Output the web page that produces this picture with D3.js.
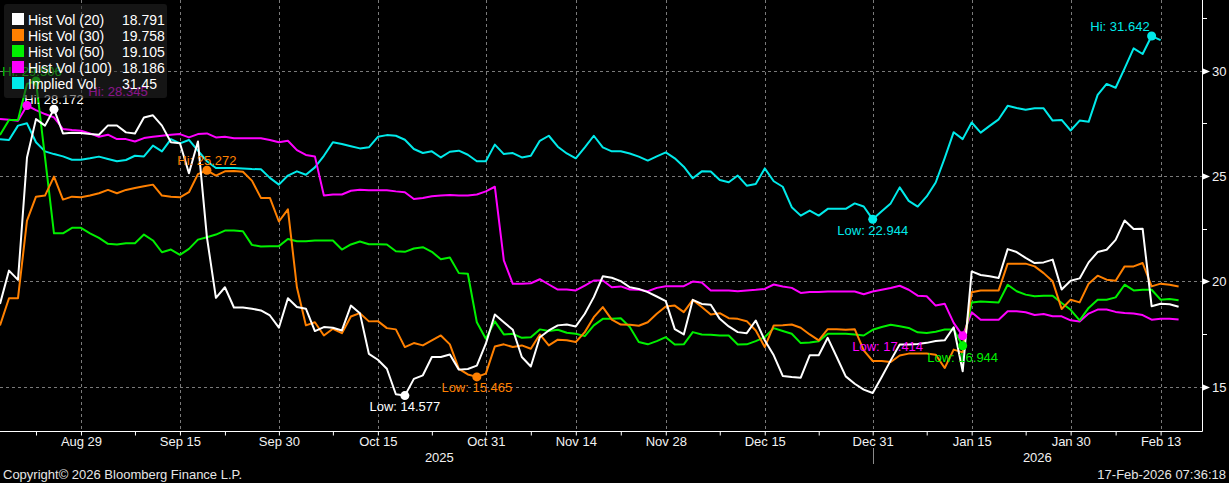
<!DOCTYPE html>
<html><head><meta charset="utf-8">
<script src="https://cdn.jsdelivr.net/npm/d3@7/dist/d3.min.js"></script>
<style>html,body{margin:0;padding:0;background:#000;overflow:hidden}svg{display:block}</style>
</head><body><svg id="c" width="1229" height="483"></svg>
<script>
// ---------------- DATA ----------------
const seriesNames = ["Hist Vol (20)", "Hist Vol (30)", "Hist Vol (50)", "Hist Vol (100)", "Implied Vol"];
const legendValues = ["18.791", "19.758", "19.105", "18.186", "31.45"];
const firstDate = "2025-08-18";   // first trading day shown (weekday calendar)
const lastDate = "2026-02-17";
const tickLabels = ["Aug 29", "Sep 15", "Sep 30", "Oct 15", "Oct 31", "Nov 14", "Nov 28", "Dec 15", "Dec 31", "Jan 15", "Jan 30", "Feb 13"];
const tickDates = ["2025-08-29", "2025-09-15", "2025-09-30", "2025-10-15", "2025-10-31", "2025-11-14", "2025-11-28", "2025-12-15", "2025-12-31", "2026-01-15", "2026-01-30", "2026-02-13"];
const minorTickDates = ["2025-08-22", "2025-09-08", "2025-09-22", "2025-10-08", "2025-10-23", "2025-11-07", "2025-11-21", "2025-12-08", "2025-12-23", "2026-01-08", "2026-01-23", "2026-02-06"];
const yearLabels = ["2025", "2026"];
const yTicks = [15, 20, 25, 30];
const yMinorTicks = [17.5, 22.5, 27.5, 32.5];

const histVol20 = [18.93,20.51,20.07,25.88,27.70,27.39,28.172,27.02,27.05,27.04,26.99,26.96,27.40,27.40,27.07,27.02,27.78,27.88,27.39,26.60,
26.55,25.13,26.64,22.09,19.22,19.72,18.76,18.76,18.70,18.62,18.38,17.80,19.20,18.78,18.70,17.64,17.83,17.80,17.67,18.85,
18.49,16.56,16.28,15.85,14.64,14.577,15.37,15.54,16.41,16.41,16.53,15.81,15.84,16.00,17.04,18.43,18.06,17.70,16.41,15.96,
17.35,17.67,17.91,17.95,17.86,18.46,19.25,20.24,20.17,20.01,19.72,19.64,19.49,19.28,19.06,17.73,17.48,19.12,18.93,18.89,
18.22,17.86,17.59,17.54,18.14,17.20,16.49,15.51,15.46,15.43,16.49,16.49,17.32,16.41,15.49,15.14,14.86,14.70,15.46,16.25,
17.00,17.00,17.03,17.08,17.17,17.20,17.82,15.73,20.47,20.30,20.24,20.16,21.53,21.39,21.11,20.87,20.90,21.03,19.61,20.03,
20.14,20.90,21.39,21.50,21.97,22.89,22.48,22.50,18.82,18.94,18.91,18.791];

const histVol30 = [17.91,19.20,19.20,22.88,24.02,24.07,24.97,23.88,24.02,23.99,24.07,24.18,24.34,24.18,24.34,24.43,24.51,24.59,24.07,24.02,
23.99,24.23,25.09,25.272,25.02,25.22,25.24,25.20,24.78,23.96,23.96,22.84,23.42,19.72,17.91,18.06,17.43,17.75,17.54,18.33,
18.49,18.10,18.11,17.78,17.72,16.88,17.07,16.96,17.20,17.43,17.01,15.85,15.58,15.465,15.62,16.91,17.01,16.88,16.96,16.80,
17.48,16.96,17.23,17.20,17.12,17.59,18.30,18.78,18.18,17.95,17.94,17.89,18.06,18.46,18.81,18.85,18.54,19.12,18.78,18.43,
18.49,18.25,18.22,18.11,17.67,16.88,17.91,17.92,17.95,17.80,17.48,17.20,17.73,17.73,17.70,17.73,16.72,16.22,16.22,16.17,
16.48,16.57,16.57,16.57,16.52,15.89,16.76,16.63,19.48,19.57,19.57,19.57,20.84,20.84,20.84,20.71,20.39,20.00,18.69,19.13,
19.00,19.89,20.27,20.08,20.03,20.71,20.71,20.87,19.76,19.89,19.84,19.758];

const histVol50 = [26.95,27.66,27.66,29.37,29.506,25.90,22.28,22.28,22.54,22.54,22.28,22.06,21.78,21.75,21.81,21.81,22.22,21.94,21.38,21.51,
21.26,21.54,21.98,22.09,22.22,22.41,22.41,22.38,21.73,21.65,21.67,21.67,22.01,21.90,21.90,21.94,21.94,21.94,21.51,21.75,
21.89,21.76,21.76,21.75,21.43,21.40,21.56,21.62,21.40,21.05,21.13,20.39,20.36,18.06,17.28,18.10,17.48,17.51,17.32,17.35,
17.72,17.64,17.70,17.56,17.51,17.40,17.91,18.22,18.22,18.25,17.83,17.12,17.01,17.16,17.35,17.00,17.01,17.59,17.48,17.46,
17.43,17.43,17.00,17.01,17.16,17.35,17.78,17.64,17.51,17.07,17.10,17.16,17.51,17.51,17.51,17.48,17.43,17.70,17.83,17.94,
17.87,17.79,17.58,17.55,17.61,17.71,17.71,16.944,19.00,19.04,19.02,19.00,19.84,19.53,19.37,19.29,19.32,19.32,18.97,18.65,
18.15,18.74,19.13,19.13,19.24,19.84,19.57,19.60,19.60,19.13,19.16,19.105];

const histVol100 = [27.70,27.67,27.62,28.345,28.13,27.94,27.78,27.23,27.18,27.15,27.02,26.86,26.96,26.75,26.75,26.64,26.80,26.86,26.91,26.96,
26.99,26.83,26.99,27.02,26.83,26.86,26.79,26.79,26.79,26.79,26.71,26.60,26.67,26.23,26.00,25.93,24.07,24.12,24.12,24.30,
24.35,24.32,24.32,24.32,24.27,24.23,23.91,23.96,24.04,24.07,24.10,24.07,24.07,24.12,24.27,24.49,21.00,19.88,19.88,19.91,
20.10,19.85,19.61,19.61,19.57,19.80,20.04,20.04,19.72,19.76,19.61,19.60,19.53,19.69,19.77,19.77,19.77,19.99,19.94,19.57,
19.57,19.57,19.53,19.57,19.60,19.64,19.85,19.76,19.69,19.45,19.49,19.49,19.52,19.52,19.52,19.52,19.39,19.52,19.60,19.68,
19.79,19.60,19.32,19.29,18.85,18.94,18.03,17.414,18.53,18.18,18.18,18.18,18.58,18.58,18.53,18.40,18.45,18.34,18.34,18.15,
18.09,18.47,18.66,18.66,18.55,18.50,18.47,18.40,18.18,18.23,18.23,18.186];

const impliedVol = [26.75,26.71,27.39,27.50,26.60,26.17,26.04,25.93,25.77,25.77,25.84,25.92,25.81,25.70,25.76,25.96,25.93,26.44,26.17,26.75,
26.55,26.71,26.20,25.70,25.38,25.38,25.38,25.36,25.33,25.32,24.91,24.59,25.02,25.22,25.06,25.41,25.96,26.60,26.52,26.41,
26.31,26.36,26.86,26.94,26.91,26.72,26.28,26.09,26.17,25.88,26.15,26.20,26.01,25.70,25.70,26.49,26.04,26.09,25.88,25.96,
26.67,26.91,26.39,26.07,25.84,26.36,26.91,26.36,26.17,26.17,26.07,25.92,25.73,25.93,26.12,25.84,25.44,24.89,25.22,25.21,
24.81,24.70,25.02,24.54,24.62,25.36,24.75,24.49,23.52,23.12,23.36,23.12,23.44,23.44,23.44,23.70,23.55,22.944,23.33,23.70,
24.46,23.82,23.55,24.03,24.69,25.85,27.08,26.75,27.54,27.06,27.38,27.69,28.33,28.23,28.14,28.21,28.21,27.63,27.66,27.16,
27.63,27.57,28.85,29.37,29.19,30.11,31.06,30.79,31.642,31.45];

const seriesValues = [histVol20, histVol30, histVol50, histVol100, impliedVol];

// ---------------- STYLE / LAYOUT ----------------
const colors = ["#ffffff", "#ff8000", "#00f000", "#ff00ff", "#00eaea"];
const FONT = "'Liberation Sans', Arial, sans-serif";
const plot = {left: 0, right: 1202, top: 0, bottom: 431};
// label placement tweaks for Hi / Low annotations [dx, dy(baseline), anchor]
const hiPlace  = [[0,-5,"middle"],[0,-5,"middle"],[-4,-5,"middle"],[91,-10,"middle"],[-2,-5,"end"]];
const lowPlace = [[0,15.5,"middle"],[0,15.5,"middle"],[0,16,"middle"],[-75,15.5,"middle"],[0,15.5,"middle"]];

const svg = d3.select("#c");
svg.append("rect").attr("width",1229).attr("height",483).attr("fill","#000");

const parse = d3.timeParse("%Y-%m-%d");
const tradingDays = d3.timeDay.range(parse(firstDate), d3.timeDay.offset(parse(lastDate),1))
  .filter(d => d.getDay() !== 0 && d.getDay() !== 6);
const fmtKey = d3.timeFormat("%Y-%m-%d");
const dayIndex = new Map(tradingDays.map((d,i)=>[fmtKey(d), i]));

const x = d3.scaleLinear().domain([0, 133.6]).range([plot.left, plot.right]);
const y = d3.scaleLinear().domain([12.897, 33.353]).range([plot.bottom, plot.top]);

// grid
const grid = svg.append("g").attr("stroke","#7a7a7a").attr("stroke-width",1).attr("stroke-dasharray","3,3");
yTicks.forEach(v => grid.append("line").attr("x1",plot.left).attr("x2",plot.right)
  .attr("y1",Math.round(y(v))+0.5).attr("y2",Math.round(y(v))+0.5));
tickDates.forEach(d => { const xx = Math.round(x(dayIndex.get(d)))+0.5;
  grid.append("line").attr("x1",xx).attr("x2",xx).attr("y1",plot.top).attr("y2",plot.bottom); });

// clip
svg.append("clipPath").attr("id","clip").append("rect")
  .attr("x",plot.left).attr("y",plot.top).attr("width",plot.right-plot.left).attr("height",plot.bottom-plot.top);

const line = d3.line().x((d,i)=>x(i)).y(d=>y(d));
const lines = svg.append("g").attr("clip-path","url(#clip)");
for (let s = seriesValues.length-1; s >= 0; s--) {
  lines.append("path").datum(seriesValues[s]).attr("d", line)
    .attr("fill","none").attr("stroke",colors[s]).attr("stroke-width",2).attr("stroke-linejoin","round");
}

// hi / low annotations
const ann = svg.append("g").attr("font-family",FONT).attr("font-size",13);
seriesValues.forEach((vals, s) => {
  const iMax = d3.maxIndex(vals), iMin = d3.minIndex(vals);
  [[iMax,"Hi: ",hiPlace[s]],[iMin,"Low: ",lowPlace[s]]].forEach(([i,pre,pl]) => {
    const cx = x(i), cy = y(vals[i]);
    ann.append("circle").attr("cx",cx).attr("cy",cy).attr("r",4.5).attr("fill",colors[s]);
    ann.append("text").attr("x",cx+pl[0]).attr("y",cy+pl[1]).attr("text-anchor",pl[2])
      .attr("fill",colors[s]).text(pre + d3.format(".3f")(vals[i]));
  });
});

// legend
const lg = svg.append("g").attr("font-family",FONT).attr("font-size",14);
lg.append("rect").attr("x",4).attr("y",4).attr("width",163).attr("height",94).attr("rx",3)
  .attr("fill","#262626").attr("fill-opacity",0.55);
seriesNames.forEach((n,i) => {
  const by = 25 + i*16;
  lg.append("rect").attr("x",12).attr("y",by-12).attr("width",12).attr("height",12).attr("fill",colors[i]);
  lg.append("text").attr("x",28).attr("y",by).attr("fill","#fff").text(n);
  lg.append("text").attr("x",122).attr("y",by).attr("fill","#fff").text(legendValues[i]);
});

// axes lines
const ax = svg.append("g");
ax.append("line").attr("x1",plot.left).attr("x2",plot.right+0.5).attr("y1",plot.bottom+0.5).attr("y2",plot.bottom+0.5)
  .attr("stroke","#fff").attr("stroke-width",1);
ax.append("line").attr("x1",plot.right+0.5).attr("x2",plot.right+0.5).attr("y1",plot.top).attr("y2",plot.bottom+0.5)
  .attr("stroke","#fff").attr("stroke-width",1);

// x axis ticks via d3 axis
const xAxis = d3.axisBottom(x).tickValues(tickDates.map(d=>dayIndex.get(d)))
  .tickFormat((d,i)=>tickLabels[i]).tickSize(4).tickPadding(2);
const gx = svg.append("g").attr("transform",`translate(0,${plot.bottom})`).call(xAxis);
gx.select(".domain").remove();
gx.selectAll(".tick line").attr("stroke","#fff").attr("transform","translate(0,0.5)");
gx.selectAll(".tick text").attr("fill","#f2f2f2").attr("font-family",FONT).attr("font-size",13).attr("dy",null).attr("y",15);
const xMinor = d3.axisBottom(x).tickValues(minorTickDates.map(d=>dayIndex.get(d))).tickFormat("").tickSize(4);
const gxm = svg.append("g").attr("transform",`translate(0,${plot.bottom})`).call(xMinor);
gxm.select(".domain").remove();
gxm.selectAll(".tick line").attr("stroke","#fff").attr("transform","translate(0,0.5)");

// year labels and separator
const boundary = x(dayIndex.get("2025-12-31"));
const yl = svg.append("g").attr("font-family",FONT).attr("font-size",13).attr("fill","#f2f2f2").attr("text-anchor","middle");
yl.append("text").attr("x",(plot.left+boundary)/2+3).attr("y",461.5).text(yearLabels[0]);
yl.append("text").attr("x",(boundary+plot.right)/2).attr("y",461.5).text(yearLabels[1]);
svg.append("line").attr("x1",Math.round(boundary)+0.5).attr("x2",Math.round(boundary)+0.5).attr("y1",448).attr("y2",464)
  .attr("stroke","#8a8a8a");

// y axis (right)
const gy = svg.append("g");
yTicks.forEach(v => {
  const yy = Math.round(y(v))+0.5;
  gy.append("path").attr("d",`M${plot.right+1},${yy-3}L${plot.right+8},${yy}L${plot.right+1},${yy+3}Z`).attr("fill","#fff");
  gy.append("text").attr("x",1212).attr("y",yy+4.8).attr("fill","#f2f2f2").attr("font-family",FONT).attr("font-size",13).text(v);
});
yMinorTicks.forEach(v => {
  const yy = Math.round(y(v))+0.5;
  gy.append("line").attr("x1",plot.right).attr("x2",plot.right+5).attr("y1",yy).attr("y2",yy).attr("stroke","#fff");
});

// footer
svg.append("text").attr("x",3).attr("y",478.5).attr("fill","#e6e6e6").attr("font-family",FONT).attr("font-size",13)
  .text("Copyright\u00A9 2026 Bloomberg Finance L.P.");
svg.append("text").attr("x",1226).attr("y",478.5).attr("text-anchor","end").attr("fill","#e6e6e6").attr("font-family",FONT).attr("font-size",13)
  .text("17-Feb-2026 07:36:18");
</script></body></html>
